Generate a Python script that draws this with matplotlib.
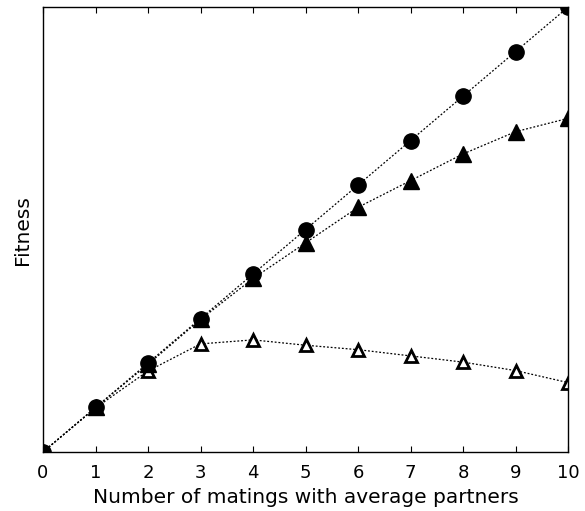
import matplotlib
matplotlib.use("Agg")
import matplotlib.pyplot as plt

# matings with average partners
matings = [0, 1, 2, 3, 4, 5, 6, 7, 8, 9, 10]

# fitness readings (arbitrary units, no y scale in the original)
fit_circle = [0, 1.0, 2.0, 3.0, 4.0, 5.0, 6.0, 7.0, 8.0, 9.0, 10.0]
fit_tri_filled = [0, 1.0, 1.97, 2.98, 3.9, 4.7, 5.5, 6.1, 6.7, 7.2, 7.5]
fit_tri_open = [0, 0.99, 1.82, 2.43, 2.52, 2.40, 2.30, 2.16, 2.02, 1.83, 1.56]

xticks = [0, 1, 2, 3, 4, 5, 6, 7, 8, 9, 10]

plt.rcParams['font.family'] = ['DejaVu Sans']

fig = plt.figure(figsize=(5.85, 5.11), dpi=100)
ax = fig.add_axes([0.0735, 0.1155, 0.8975, 0.8705])

ax.plot(matings, fit_tri_open, color='black', linestyle=(0, (1.5, 1.5)), linewidth=0.9,
        marker='^', markersize=9, markerfacecolor='white', markeredgecolor='black',
        markeredgewidth=2)
ax.plot(matings, fit_tri_filled, color='black', linestyle=(0, (1.5, 1.5)), linewidth=0.9,
        marker='^', markersize=11, markerfacecolor='black', markeredgecolor='black')
ax.plot(matings, fit_circle, color='black', linestyle=(0, (1.5, 1.5)), linewidth=0.9,
        marker='o', markersize=11, markerfacecolor='black', markeredgecolor='black')

ax.set_xlim(0, 10)
ax.set_ylim(0, 10)
ax.set_xticks(xticks)
ax.set_xticklabels([str(t) for t in xticks], fontsize=13)
ax.set_yticks([])
ax.tick_params(axis='x', direction='in', top=True, length=4, width=0.8, pad=9)
for s in ax.spines.values():
    s.set_linewidth(1.0)

ax.set_xlabel('Number of matings with average partners', fontsize=14.5, labelpad=4)
ax.set_ylabel('Fitness', fontsize=14.5, labelpad=8)

fig.savefig('out.png', dpi=100)
